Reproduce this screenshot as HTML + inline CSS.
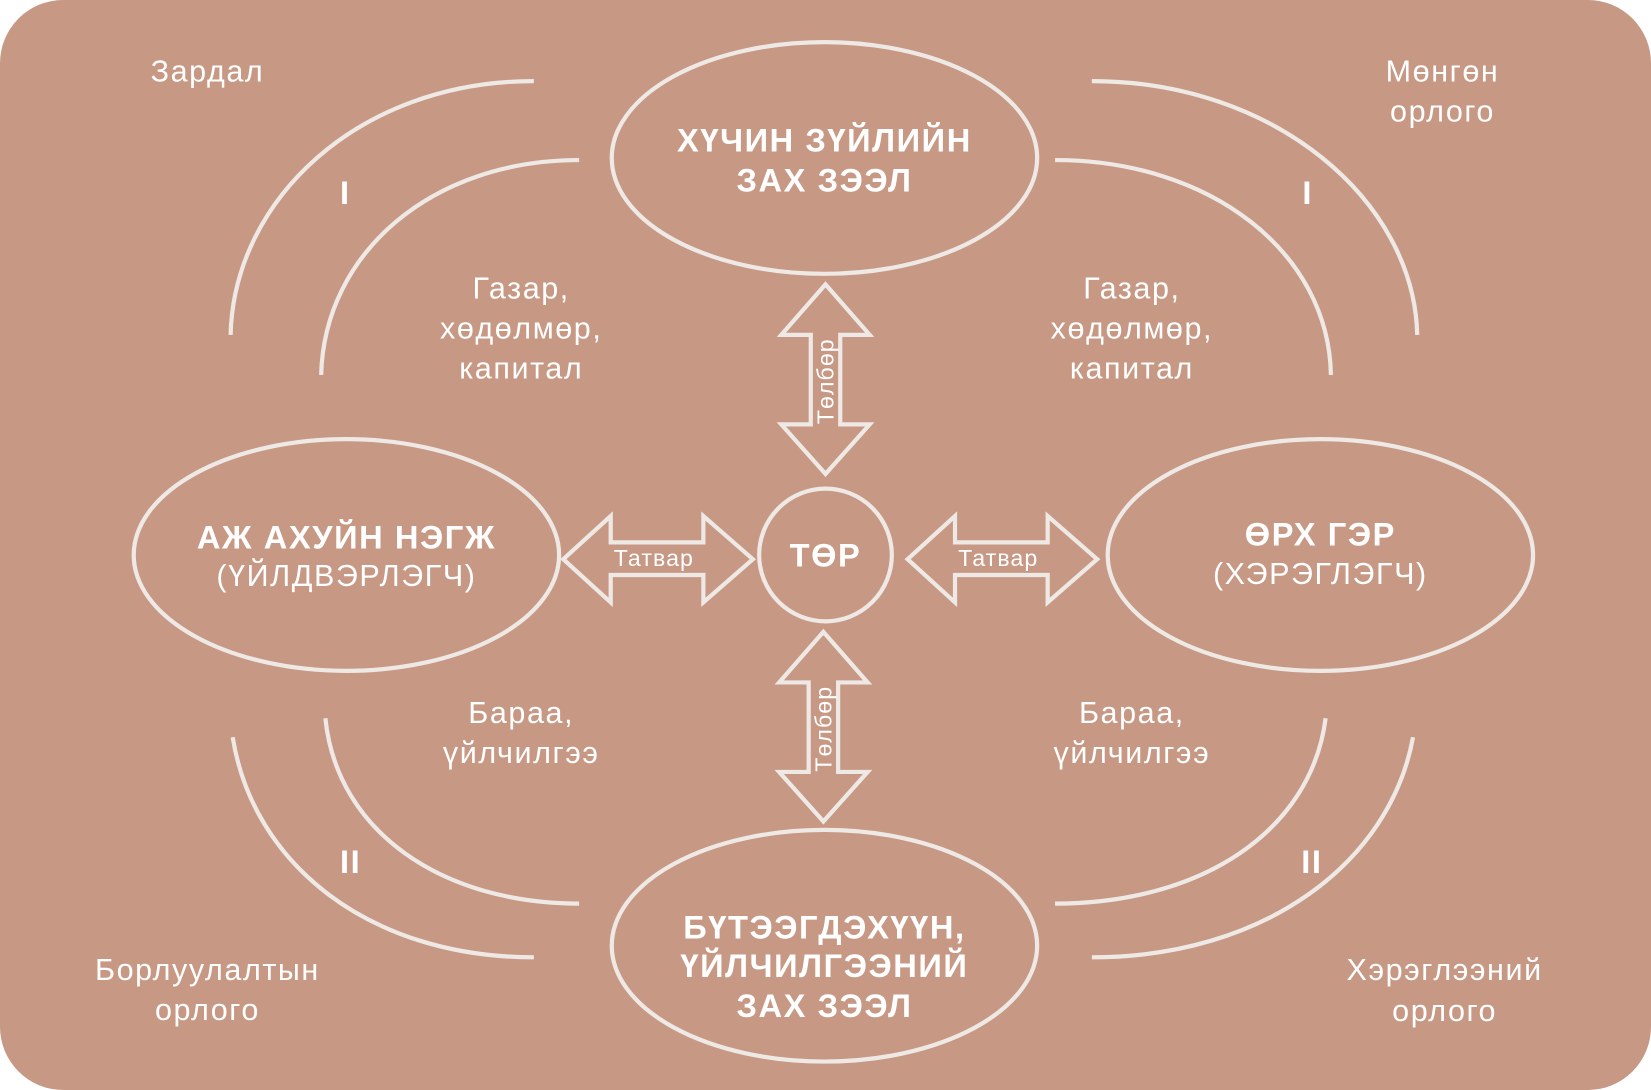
<!DOCTYPE html>
<html><head><meta charset="utf-8"><style>
html,body{margin:0;padding:0;background:#fff;}
svg{display:block;}
text{font-family:"Liberation Sans",sans-serif;fill:#fff;text-anchor:middle;dominant-baseline:central;}
.b{font-weight:bold;font-size:31px;letter-spacing:1.5px;}
.n{font-size:29px;letter-spacing:1.5px;}
</style></head><body>
<svg width="1651" height="1090" viewBox="0 0 1568 1035" preserveAspectRatio="none" xmlns="http://www.w3.org/2000/svg">
<rect x="0" y="0" width="1568" height="1035" rx="60" fill="#c79884"/>
<g fill="none" stroke="#efe9e6" stroke-width="4">
<path d="M507,77 C340,77 222,190 219,318"/>
<path d="M550,152 C410,152 308,240 305,356"/>
<path d="M1037,77 C1210,77 1343,190 1346,318"/>
<path d="M1002,152 C1150,152 1262,240 1264,356"/>
<path d="M507,909 C350,909 240,820 221,700"/>
<path d="M550,858 C420,858 320,790 309,682"/>
<path d="M1037,909 C1200,909 1320,820 1342,700"/>
<path d="M1002,858 C1140,858 1245,790 1259,682"/>
<ellipse cx="783" cy="150" rx="202" ry="110"/>
<ellipse cx="329" cy="527" rx="202" ry="110"/>
<ellipse cx="1254" cy="527" rx="202" ry="110"/>
<ellipse cx="783" cy="898" rx="202" ry="110"/>
<circle cx="784" cy="527" r="63"/>
<polygon points="784,270 826,318 798,318 798,403 826,403 784,450 742,403 770,403 770,318 742,318"/>
<polygon points="782,600 824,648 796,648 796,733 824,733 782,780 740,733 768,733 768,648 740,648"/>
<polygon points="535,531 580,490 580,515 668,515 668,490 715,531 668,572 668,546 580,546 580,572"/>
<polygon points="862,531 907,490 907,515 995,515 995,490 1042,531 995,572 995,546 907,546 907,572"/>
</g>
<text class="n" x="197" y="68">Зардал</text>
<text class="n" x="1370" y="68">Мөнгөн</text><text class="n" x="1370" y="106">орлого</text>
<text class="b" x="328" y="183">I</text><text class="b" x="1242" y="183">I</text>
<text class="b" x="333" y="818">II</text><text class="b" x="1246" y="818">II</text>
<text class="n" x="495" y="274">Газар,</text><text class="n" x="495" y="312">хөдөлмөр,</text><text class="n" x="495" y="350">капитал</text>
<text class="n" x="1075" y="274">Газар,</text><text class="n" x="1075" y="312">хөдөлмөр,</text><text class="n" x="1075" y="350">капитал</text>
<text class="n" x="495" y="677">Бараа,</text><text class="n" x="495" y="715">үйлчилгээ</text>
<text class="n" x="1075" y="677">Бараа,</text><text class="n" x="1075" y="715">үйлчилгээ</text>
<text class="n" x="197" y="921">Борлуулалтын</text><text class="n" x="197" y="959">орлого</text>
<text class="n" x="1372" y="921">Хэрэглээний</text><text class="n" x="1372" y="960">орлого</text>
<text class="b" x="783" y="133">ХҮЧИН ЗҮЙЛИЙН</text><text class="b" x="783" y="171">ЗАХ ЗЭЭЛ</text>
<text class="b" x="329" y="510">АЖ АХУЙН НЭГЖ</text><text class="n" x="329" y="547">(ҮЙЛДВЭРЛЭГЧ)</text>
<text class="b" x="1254" y="507">ӨРХ ГЭР</text><text class="n" x="1254" y="545">(ХЭРЭГЛЭГЧ)</text>
<text class="b" x="784" y="527">ТӨР</text>
<text class="b" x="783" y="880">БҮТЭЭГДЭХҮҮН,</text><text class="b" x="783" y="917">ҮЙЛЧИЛГЭЭНИЙ</text><text class="b" x="783" y="955">ЗАХ ЗЭЭЛ</text>
<text x="621" y="530" font-size="22" letter-spacing="1">Татвар</text>
<text x="948" y="530" font-size="22" letter-spacing="1">Татвар</text>
<text x="784" y="362" font-size="22" letter-spacing="1" transform="rotate(-90 784 362)">Төлбөр</text>
<text x="782" y="692" font-size="22" letter-spacing="1" transform="rotate(-90 782 692)">Төлбөр</text>
</svg>
</body></html>
